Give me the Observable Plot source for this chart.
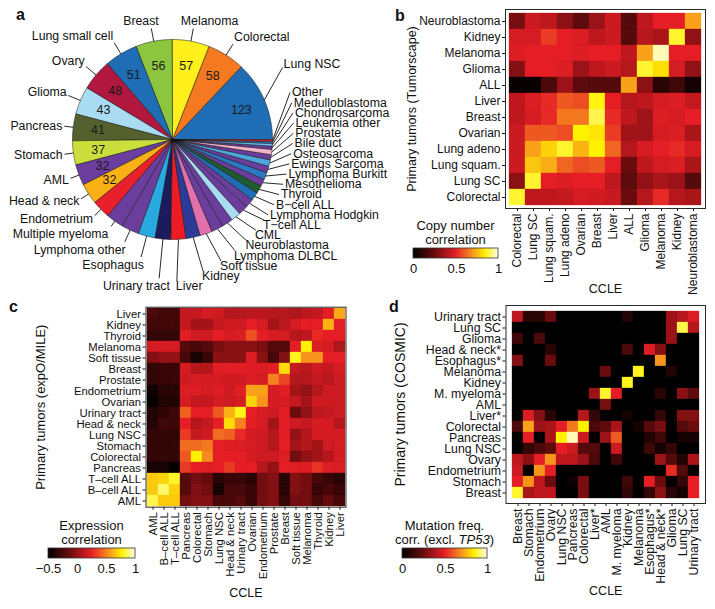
<!DOCTYPE html>
<html><head><meta charset="utf-8">
<script src="https://cdn.jsdelivr.net/npm/d3@7"></script>
<script src="https://cdn.jsdelivr.net/npm/@observablehq/plot@0.6"></script>
<style>
body{margin:0;background:#fff;}
#fig{position:relative;width:715px;height:609px;overflow:hidden;font-family:'Liberation Sans',Arial,sans-serif;color:#111;background:#fff;}
.letter{position:absolute;font-weight:bold;font-size:16px;line-height:16px;}
.ltitle{position:absolute;font-size:13px;line-height:14px;text-align:center;width:150px;}
</style></head><body><div id="fig"></div><script>
// ---------------- DATA ----------------
const pieNames = ["Lung NSC","Colorectal","Melanoma","Breast","Lung small cell","Ovary","Glioma","Pancreas","Stomach","AML","Head & neck","Endometrium","Multiple myeloma","Lymphoma other","Esophagus","Urinary tract","Liver","Kidney","Soft tissue","Lymphoma DLBCL","Neuroblastoma","CML","T−cell ALL","Lymphoma Hodgkin","B−cell ALL","Thyroid","Mesothelioma","Lymphoma Burkitt","Ewings Sarcoma","Osteosarcoma","Bile duct","Prostate","Leukemia other","Chondrosarcoma","Medulloblastoma","Other"];
const pieCounts = [123,58,57,56,51,48,43,41,37,32,32,28,27,27,26,24,23,22,19,18,17,15,15,13,13,12,11,11,10,10,8,8,5,4,3,3];
const pieShownCount = 11;
const pieColors = ["#1f6eb5","#f47920","#ffef1a","#8cc63f","#1f6eb5","#b2173f","#a9dcf3","#55602f","#cadf3b","#6b3e9e","#fbb116","#e7202b","#6b3e9e","#6b3e9e","#28a9e0","#1c1b5c","#ec1c26","#2d3b98","#e170ad","#6b3e9e","#6b3e9e","#a9dcf3","#6b3e9e","#6b3e9e","#1f6eb5","#1e5b2e","#6b3e9e","#2a7bc4","#6b3e9e","#4fa6dd","#6b3e9e","#f3b3c9","#6b3e9e","#6cc0ea","#2a7bc4","#d7262e"];

const bRows = ["Neuroblastoma","Kidney","Melanoma","Glioma","ALL","Liver","Breast","Ovarian","Lung adeno","Lung squam.","Lung SC","Colorectal"];
const bCols = ["Colorectal","Lung SC","Lung squam.","Lung adeno","Ovarian","Breast","Liver","ALL","Glioma","Melanoma","Kidney","Neuroblastoma"];
const bValues = [
 [0.28,0.45,0.42,0.32,0.22,0.35,0.45,0.2,0.42,0.5,0.5,0.72],
 [0.47,0.47,0.55,0.5,0.48,0.42,0.45,0.2,0.4,0.38,0.88,0.33],
 [0.48,0.5,0.5,0.5,0.48,0.5,0.5,0.42,0.72,0.97,0.5,0.5],
 [0.3,0.5,0.5,0.48,0.35,0.42,0.45,0.4,0.88,0.82,0.47,0.33],
 [0.02,0.02,0.18,0.35,0.22,0.2,0.2,0.72,0.32,0.1,0.15,0.05],
 [0.42,0.48,0.52,0.6,0.58,0.86,0.5,0.4,0.42,0.47,0.48,0.43],
 [0.42,0.47,0.52,0.65,0.65,0.9,0.52,0.42,0.36,0.48,0.47,0.5],
 [0.45,0.6,0.6,0.58,0.85,0.83,0.55,0.36,0.36,0.47,0.48,0.38],
 [0.45,0.72,0.8,0.88,0.75,0.85,0.62,0.4,0.47,0.5,0.52,0.47],
 [0.45,0.78,0.74,0.62,0.58,0.6,0.5,0.25,0.42,0.47,0.48,0.38],
 [0.32,0.88,0.5,0.48,0.5,0.5,0.42,0.22,0.33,0.38,0.35,0.2],
 [0.88,0.42,0.42,0.43,0.47,0.46,0.44,0.25,0.4,0.52,0.4,0.38]
];

const cRows = ["Liver","Kidney","Thyroid","Melanoma","Soft tissue","Breast","Prostate","Endometrium","Ovarian","Urinary tract","Head & neck","Lung NSC","Stomach","Colorectal","Pancreas","T–cell ALL","B–cell ALL","AML"];
const cCols = ["AML","B–cell ALL","T–cell ALL","Pancreas","Colorectal","Stomach","Lung NSC","Head & neck","Urinary tract","Ovarian","Endometrium","Prostate","Breast","Soft tissue","Melanoma","Thyroid","Kidney","Liver"];
const cValues = [
 [-0.22,-0.27,-0.27,0.15,0.15,0.2,0.18,0.1,0.1,0.12,0.12,0.1,0.1,0.08,0.12,0.15,0.25,0.6],
 [-0.27,-0.27,-0.27,0.15,0.05,0.05,0.15,0.18,0.18,0.25,0.2,0.05,0.12,0.2,0.25,0.25,0.62,0.25],
 [-0.32,-0.32,-0.32,0.24,0.18,0.18,0.25,0.2,0.22,0.38,0.25,0.2,0.2,0.1,0.12,0.28,0.25,0.25],
 [0.2,0.2,0.2,-0.2,-0.25,-0.2,-0.08,-0.03,-0.03,-0.03,-0.08,-0.2,-0.2,0.25,0.78,0.22,0.2,0.08],
 [-0.05,0.0,0.0,-0.25,-0.42,-0.3,-0.03,-0.03,-0.03,0.22,-0.03,-0.25,-0.05,0.8,0.55,0.55,0.25,0.25],
 [-0.32,-0.3,-0.3,0.2,0.1,0.1,0.24,0.24,0.24,0.22,0.22,0.25,0.72,0.15,0.12,0.18,0.15,0.2],
 [-0.32,-0.3,-0.3,0.18,0.2,0.2,0.2,0.18,0.18,0.22,0.2,0.5,0.35,0.1,0.1,0.15,0.12,0.18],
 [-0.45,-0.35,-0.35,0.22,0.22,0.2,0.22,0.18,0.24,0.58,0.58,0.2,0.24,0.05,0.0,0.1,0.18,0.18],
 [-0.48,-0.38,-0.38,0.2,0.15,0.15,0.2,0.18,0.2,0.7,0.55,0.2,0.2,0.15,0.05,0.18,0.18,0.18],
 [-0.38,-0.33,-0.28,0.42,0.25,0.25,0.4,0.62,0.8,0.25,0.2,0.18,0.24,-0.12,0.0,0.12,0.15,0.18],
 [-0.38,-0.28,-0.28,0.25,0.1,0.15,0.25,0.72,0.5,0.25,0.2,0.05,0.25,0.18,0.15,0.2,0.2,0.1],
 [-0.32,-0.32,-0.32,0.32,0.15,0.18,0.45,0.42,0.28,0.2,0.18,0.1,0.25,0.0,0.1,0.2,0.2,0.2],
 [-0.32,-0.32,-0.32,0.45,0.45,0.48,0.25,0.22,0.22,0.2,0.18,0.1,0.25,0.05,0.1,0.05,0.18,0.2],
 [-0.32,-0.32,-0.32,0.4,0.77,0.52,0.25,0.25,0.25,0.2,0.18,0.18,0.22,-0.1,0.0,0.05,0.1,0.2],
 [-0.42,-0.42,-0.48,0.32,0.25,0.22,0.25,0.32,0.25,0.25,0.1,0.0,0.25,0.22,0.22,0.3,0.22,0.22],
 [0.68,0.7,0.82,-0.2,-0.1,-0.15,-0.35,-0.3,-0.3,-0.35,-0.1,-0.05,-0.35,-0.05,-0.1,-0.25,-0.3,-0.35],
 [0.68,0.88,0.7,-0.2,-0.05,-0.1,-0.42,-0.25,-0.25,-0.3,-0.1,-0.05,-0.35,-0.05,-0.1,-0.3,-0.25,-0.3],
 [0.85,0.68,0.68,-0.1,-0.05,-0.05,-0.25,-0.25,-0.2,-0.3,-0.1,-0.05,-0.3,-0.1,-0.1,-0.25,-0.15,-0.25]
];

const dRows = ["Urinary tract","Lung SC","Glioma","Head & neck*","Esophagus*","Melanoma","Kidney","M. myeloma","AML","Liver*","Colorectal","Pancreas","Lung NSC","Ovary","Endometrium","Stomach","Breast"];
const dCols = ["Breast","Stomach","Endometrium","Ovary","Lung NSC","Pancreas","Colorectal","Liver*","AML","M. myeloma","Kidney","Melanoma","Esophagus*","Head & neck*","Glioma","Lung SC","Urinary tract"];
const dValues = [
 [0.42,0.1,0.1,0.25,0,0,0,0,0,0,0.08,0,0,0,0.35,0.4,0.48],
 [0,0,0,0,0,0,0,0,0,0,0,0,0,0,0.35,0.9,0.4],
 [0.15,0,0.18,0,0,0,0,0,0,0,0,0,0,0,0.35,0,0],
 [0,0,0,0.1,0,0,0,0,0,0,0.18,0,0.48,0.3,0,0,0],
 [0.3,0,0,0.25,0,0,0,0,0,0,0,0,0,0.7,0,0,0],
 [0,0,0,0,0,0,0,0,0.25,0,0,0.87,0,0,0.08,0,0],
 [0,0,0,0,0,0,0,0,0,0,0.87,0,0,0,0,0,0],
 [0,0,0,0,0,0,0,0.35,0.88,0.5,0,0,0,0.1,0,0.32,0.22],
 [0,0,0,0,0,0,0,0,0.28,0,0,0,0,0,0,0,0],
 [0,0.48,0.3,0.1,0,0,0.4,0.12,0,0,0.05,0,0,0.12,0,0.3,0.3],
 [0.18,0.72,0.35,0.38,0.5,0.65,0.85,0.18,0.22,0.38,0,0.05,0.2,0.28,0,0.2,0.25],
 [0,0.5,0,0.38,0.85,0.97,0.45,0,0.35,0.6,0,0,0.08,0.15,0,0.05,0.05],
 [0,0.12,0.18,0.22,0.5,0.45,0.2,0.2,0,0.45,0,0,0.15,0.05,0.12,0,0],
 [0.42,0.32,0.5,0.7,0.42,0.42,0.35,0.18,0,0.15,0,0,0,0.35,0.2,0.08,0.38],
 [0.45,0,0.7,0.5,0,0,0,0,0,0,0,0,0,0,0.52,0.2,0],
 [0.5,0.7,0.42,0.25,0,0.03,0.28,0,0,0,0.15,0,0.5,0.25,0,0.12,0.5],
 [0.88,0.38,0.42,0.42,0,0,0.28,0,0,0,0.12,0,0.12,0.32,0.1,0.05,0.5]
];

const bTicks = [0, 0.5, 1];
const cTicks = [-0.5, 0, 0.5, 1];
const dTicks = [0, 0.5, 1];

// ---------------- STYLE ----------------
const FONT = "'Liberation Sans', Arial, Helvetica, sans-serif";
const cmapStops = [0, 0.25, 0.5, 0.7, 0.85, 1];
const cmapColors = ["#000000", "#6a0c0e", "#e51e26", "#f7941d", "#fff200", "#fffce6"];
const cmapScale = d3.scaleLinear().domain(cmapStops).range(cmapColors).interpolate(d3.interpolateRgb).clamp(true);
const cmap = t => cmapScale(t);

const fig = document.getElementById("fig");
function place(el, left, top) {
  el.style.position = "absolute";
  el.style.left = left + "px";
  el.style.top = top + "px";
  fig.appendChild(el);
}
function addDiv(cls, html, left, top) {
  const d = document.createElement("div");
  d.className = cls; d.innerHTML = html;
  d.style.left = left + "px"; d.style.top = top + "px";
  fig.appendChild(d);
}

// ---------------- PIE (a) ----------------
const CX = 172, CY = 139, R = 100;
const arcs = d3.pie().sort(null).value(d => d).startAngle(Math.PI / 2).endAngle(Math.PI / 2 - 2 * Math.PI)(pieCounts);
const pt = (a, r) => [CX + r * Math.sin(a), CY - r * Math.cos(a)];
const poly = [];
arcs.forEach((a, i) => {
  poly.push({i, x: CX, y: CY});
  const n = Math.max(2, Math.ceil(Math.abs(a.endAngle - a.startAngle) / 0.01));
  for (let k = 0; k <= n; k++) {
    const t = a.startAngle + (a.endAngle - a.startAngle) * k / n;
    const [x, y] = pt(t, R);
    poly.push({i, x, y});
  }
  poly.push({i, x: CX, y: CY});
});
const mids = arcs.map(a => (a.startAngle + a.endAngle) / 2);
const cosT = mids.map(m => Math.sin(m)), sinT = mids.map(m => Math.cos(m));
const rim = (i, r) => [CX + r * cosT[i], CY - r * sinT[i]];

const FS_PIE = 12.3;
const ctx = document.createElement("canvas").getContext("2d");
ctx.font = `${FS_PIE}px ${FONT}`;
const tw = s => ctx.measureText(s).width;

const leaders = [], stackLabels = [], radialLabels = [];
// right-hand stacked labels (small slices), evenly spaced
const SY0 = CY - 47, SSTEP = 10.2;
const circ = y => CX - 43.8 + Math.sqrt(Math.max(0, 166.8 ** 2 - (y - (CY - 13.2)) ** 2));
const stackOrder = d3.range(pieNames.length - 1, 15, -1);
stackOrder.forEach((i, k) => {
  const y = SY0 + k * SSTEP, x = circ(y);
  stackLabels.push({x, y, t: pieNames[i]});
  const [rx, ry] = rim(i, R);
  const end = (y - ry > 12) ? [x + 1, y - 5] : [x - 2, y];
  leaders.push({x1: rx, y1: ry, x2: end[0], y2: end[1]});
});
{ // Lung NSC placed above the stack
  const y = SY0 - 2.75 * SSTEP, x = circ(y);
  stackLabels.push({x, y, t: pieNames[0]});
  const [rx, ry] = rim(0, R);
  leaders.push({x1: rx, y1: ry, x2: x - 1, y2: y + 3});
}
const liverLab = stackLabels[stackLabels.length - 2];
let prevY = -Infinity;
for (let i = 1; i <= 15; i++) {
  const c = cosT[i], s = sinT[i];
  const upper = s > 0.3;
  const rt = upper ? R + 15 : R + 11;
  let ay = CY - rt * s - (upper ? 6 : 3) * s;
  const ax = CX + rt * c;
  let end = rim(i, rt - 2);
  if (!upper && ay < prevY + 15.3) {
    ay = prevY + 15.3;
    if (i === 15 && liverLab.y - ay < 8) ay = liverLab.y;
    const rl = (CY - (ay - 8)) / s;
    end = [CX + rl * c, ay - 8];
  }
  prevY = ay;
  const w = tw(pieNames[i]);
  let tx = ax + (w / 2) * Math.max(-1, Math.min(1, (upper ? 3 : 4.5) * c));
  if (i >= 13 && tx + w / 2 > liverLab.x - 6) tx = liverLab.x - 6 - w / 2;
  radialLabels.push({x: tx, y: ay, t: pieNames[i]});
  const [rx, ry] = rim(i, R);
  leaders.push({x1: rx, y1: ry, x2: end[0], y2: end[1]});
}
const nums = pieCounts.slice(0, pieShownCount).map((v, i) => {
  const [x, y] = rim(i, 75);
  return {x, y, t: String(v)};
});

const pie = Plot.plot({
  width: 395, height: 300, margin: 0,
  x: {domain: [0, 395], range: [0, 395], axis: null},
  y: {domain: [0, 300], range: [0, 300], axis: null},
  color: {type: "identity"},
  style: {fontFamily: FONT, fontSize: FS_PIE + "px", background: "transparent", overflow: "visible", color: "#111"},
  marks: [
    Plot.line(poly, {x: "x", y: "y", z: "i", fill: d => pieColors[d.i], stroke: "#111", strokeWidth: 0.5, curve: "linear"}),
    Plot.link(leaders, {x1: "x1", y1: "y1", x2: "x2", y2: "y2", stroke: "#111", strokeWidth: 0.9}),
    Plot.text(stackLabels, {x: "x", y: "y", text: "t", textAnchor: "start", fontSize: FS_PIE}),
    Plot.text(radialLabels, {x: "x", y: "y", text: "t", textAnchor: "middle", fontSize: FS_PIE}),
    Plot.text(nums, {x: "x", y: "y", text: "t", textAnchor: "middle", fontSize: 12.5, fill: "#1a1a1a"})
  ]
});
place(pie, 0, 0);

// ---------------- HEATMAPS ----------------
function heatmap(o) {
  const cells = o.rows.flatMap((r, i) => o.cols.map((c, j) => ({row: r, col: c, v: o.values[i][j]})));
  const p = Plot.plot({
    width: o.width, height: o.height,
    marginLeft: o.ml, marginRight: o.mr, marginTop: o.mt, marginBottom: o.mb,
    style: {fontFamily: FONT, fontSize: o.fs + "px", background: "transparent", overflow: "visible", color: "#111"},
    x: {domain: o.cols, padding: 0, tickRotate: -90, tickSize: 3, tickPadding: 2, label: null},
    y: {domain: o.rows, padding: 0, tickSize: 3, tickPadding: 2, label: null},
    color: {type: "linear", domain: o.domain, interpolate: cmap},
    marks: [
      Plot.cell(cells, {x: "col", y: "row", fill: "v", stroke: "v", strokeWidth: 0.3, inset: 0}),
      Plot.frame({stroke: "#2a2a2a", strokeWidth: 1}),
      Plot.text([o.ytitle], {frameAnchor: "left", text: d => d, rotate: -90, dx: -o.ytdx, fontSize: o.tfs, textAnchor: "middle", lineAnchor: "middle"}),
      Plot.text(["CCLE"], {frameAnchor: "bottom", text: d => d, dy: o.xtdy, fontSize: 12.5, textAnchor: "middle", lineAnchor: "middle"})
    ]
  });
  place(p, o.left, o.top);
}
function legend(o) {
  const el = Plot.legend({
    color: {type: "linear", domain: o.domain, interpolate: cmap},
    width: o.barW + 24, height: 32, marginLeft: 12, marginRight: 12, marginTop: 0, marginBottom: 22,
    ticks: o.ticks, tickSize: 0, label: null,
    tickFormat: d => String(d).replace("-", "−"),
    style: {fontFamily: FONT, fontSize: "13px", background: "transparent", overflow: "visible", color: "#111"}
  });
  const svg = el.tagName.toLowerCase() === "svg" ? el : el.querySelector("svg");
  svg.querySelectorAll(".tick line").forEach(l => l.remove());
  svg.querySelectorAll(".tick text").forEach(t => t.setAttribute("y", 6));
  const img = svg.querySelector("image");
  if (img) {
    const r = document.createElementNS("http://www.w3.org/2000/svg", "rect");
    ["x", "y", "width", "height"].forEach(a => r.setAttribute(a, img.getAttribute(a)));
    r.setAttribute("fill", "none"); r.setAttribute("stroke", "#333"); r.setAttribute("stroke-width", "0.8");
    svg.appendChild(r);
  }
  place(el, o.left - 12, o.top);
  addDiv("ltitle", o.title, o.left + o.barW / 2 - 75, o.top - 29);
}

heatmap({rows: bRows, cols: bCols, values: bValues, domain: [0, 1], left: 380, top: 0,
  width: 335, height: 303, ml: 125, mr: 10, mt: 9, mb: 95, fs: 12,
  ytitle: "Primary tumors (Tumorscape)", ytdx: 94, tfs: 12.5, xtdy: 80});
heatmap({rows: cRows, cols: cCols, values: cValues, domain: [-0.5, 1], left: 0, top: 290,
  width: 357.5, height: 318.7, ml: 145.5, mr: 12, mt: 16.7, mb: 102, fs: 11.3,
  ytitle: "Primary tumors (expO/MILE)", ytdx: 105.5, tfs: 13, xtdy: 86});
heatmap({rows: dRows, cols: dCols, values: dValues, domain: [0, 1], left: 385, top: 290,
  width: 330, height: 318, ml: 120.5, mr: 10, mt: 15, mb: 105, fs: 12.3,
  ytitle: "Primary tumors (COSMIC)", ytdx: 105, tfs: 14, xtdy: 87});

legend({domain: [0, 1], ticks: bTicks, left: 413, top: 248, barW: 85, title: "Copy number<br>correlation"});
legend({domain: [-0.5, 1], ticks: cTicks, left: 48, top: 548, barW: 87, title: "Expression<br>correlation"});
legend({domain: [0, 1], ticks: dTicks, left: 402, top: 548, barW: 85, title: "Mutation freq.<br>corr. (excl. <i>TP53</i>)"});

addDiv("letter", "a", 16, 7);
addDiv("letter", "b", 395, 8);
addDiv("letter", "c", 9, 299);
addDiv("letter", "d", 389, 299);
</script></body></html>
